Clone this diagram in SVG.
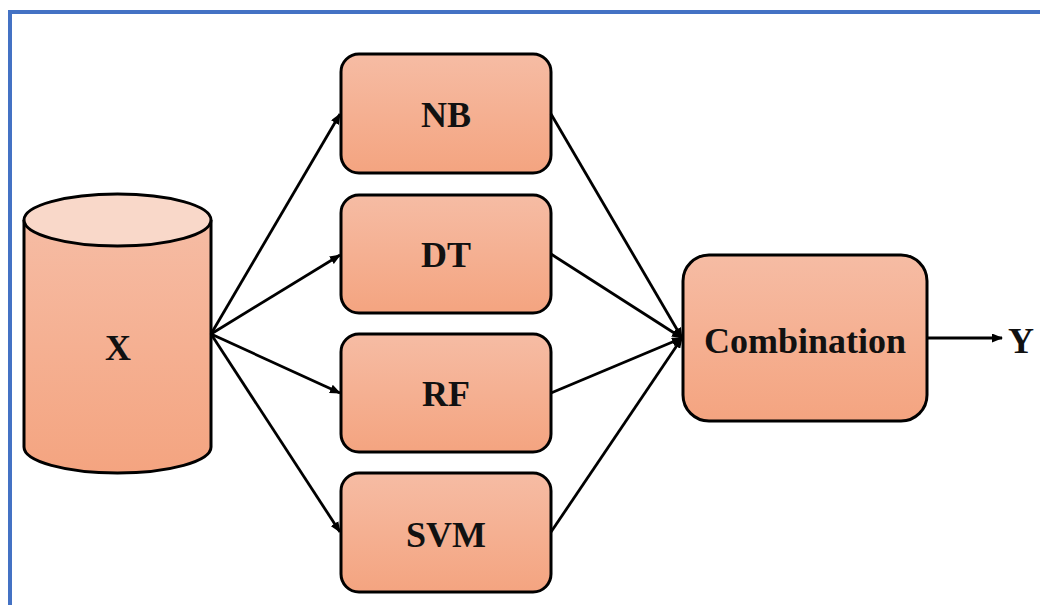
<svg xmlns="http://www.w3.org/2000/svg" width="1040" height="605" viewBox="0 0 1040 605">
<defs>
<linearGradient id="g" x1="0" y1="0" x2="0" y2="1">
<stop offset="0" stop-color="#F6BCA4"/>
<stop offset="1" stop-color="#F4A480"/>
</linearGradient>
<marker id="ah" markerWidth="11" markerHeight="9" refX="10" refY="4.5" orient="auto" markerUnits="userSpaceOnUse">
<path d="M0,0 L11,4.5 L0,9 z" fill="#000"/>
</marker>
<style>
.box{fill:url(#g);stroke:#000;stroke-width:3}
.lbl{font-family:"Liberation Serif",serif;font-weight:bold;font-size:36px;fill:#111;text-anchor:middle}
.c{stroke:#000;stroke-width:2.8;fill:none;marker-end:url(#ah)}
</style>
</defs>
<rect x="0" y="0" width="1040" height="605" fill="#fff"/>
<path d="M10,605 V12 H1040" fill="none" stroke="#4472C4" stroke-width="4"/>
<g id="node-X">
<path class="box" d="M24,220 V447 A93.5,26 0 0 0 211,447 V220"/>
<ellipse cx="117.5" cy="220" rx="93.5" ry="26" fill="#F9D8C9" stroke="#000" stroke-width="3"/>
<text class="lbl" x="118" y="360">X</text>
</g>
<g id="node-NB"><rect class="box" x="341" y="54" width="210" height="119" rx="18"/><text class="lbl" x="446" y="127">NB</text></g>
<g id="node-DT"><rect class="box" x="341" y="195" width="210" height="118" rx="18"/><text class="lbl" x="446" y="267">DT</text></g>
<g id="node-RF"><rect class="box" x="341" y="334" width="210" height="118" rx="18"/><text class="lbl" x="446" y="406">RF</text></g>
<g id="node-SVM"><rect class="box" x="341" y="473" width="210" height="119" rx="18"/><text class="lbl" x="446" y="547">SVM</text></g>
<g id="node-Combination"><rect class="box" x="683" y="255" width="244" height="166" rx="26"/><text class="lbl" x="805" y="353">Combination</text></g>
<g id="node-Y"><text class="lbl" x="1021" y="353">Y</text></g>
<g id="connectors">
<line class="c" x1="211" y1="334" x2="340" y2="114"/>
<line class="c" x1="211" y1="334" x2="340" y2="255"/>
<line class="c" x1="211" y1="334" x2="340" y2="393"/>
<line class="c" x1="211" y1="334" x2="340" y2="532"/>
<line class="c" x1="551" y1="114" x2="682" y2="338"/>
<line class="c" x1="551" y1="254" x2="682" y2="338"/>
<line class="c" x1="551" y1="393" x2="682" y2="338"/>
<line class="c" x1="551" y1="532" x2="682" y2="338"/>
<line class="c" x1="927" y1="338" x2="1002" y2="338"/>
</g>
</svg>
